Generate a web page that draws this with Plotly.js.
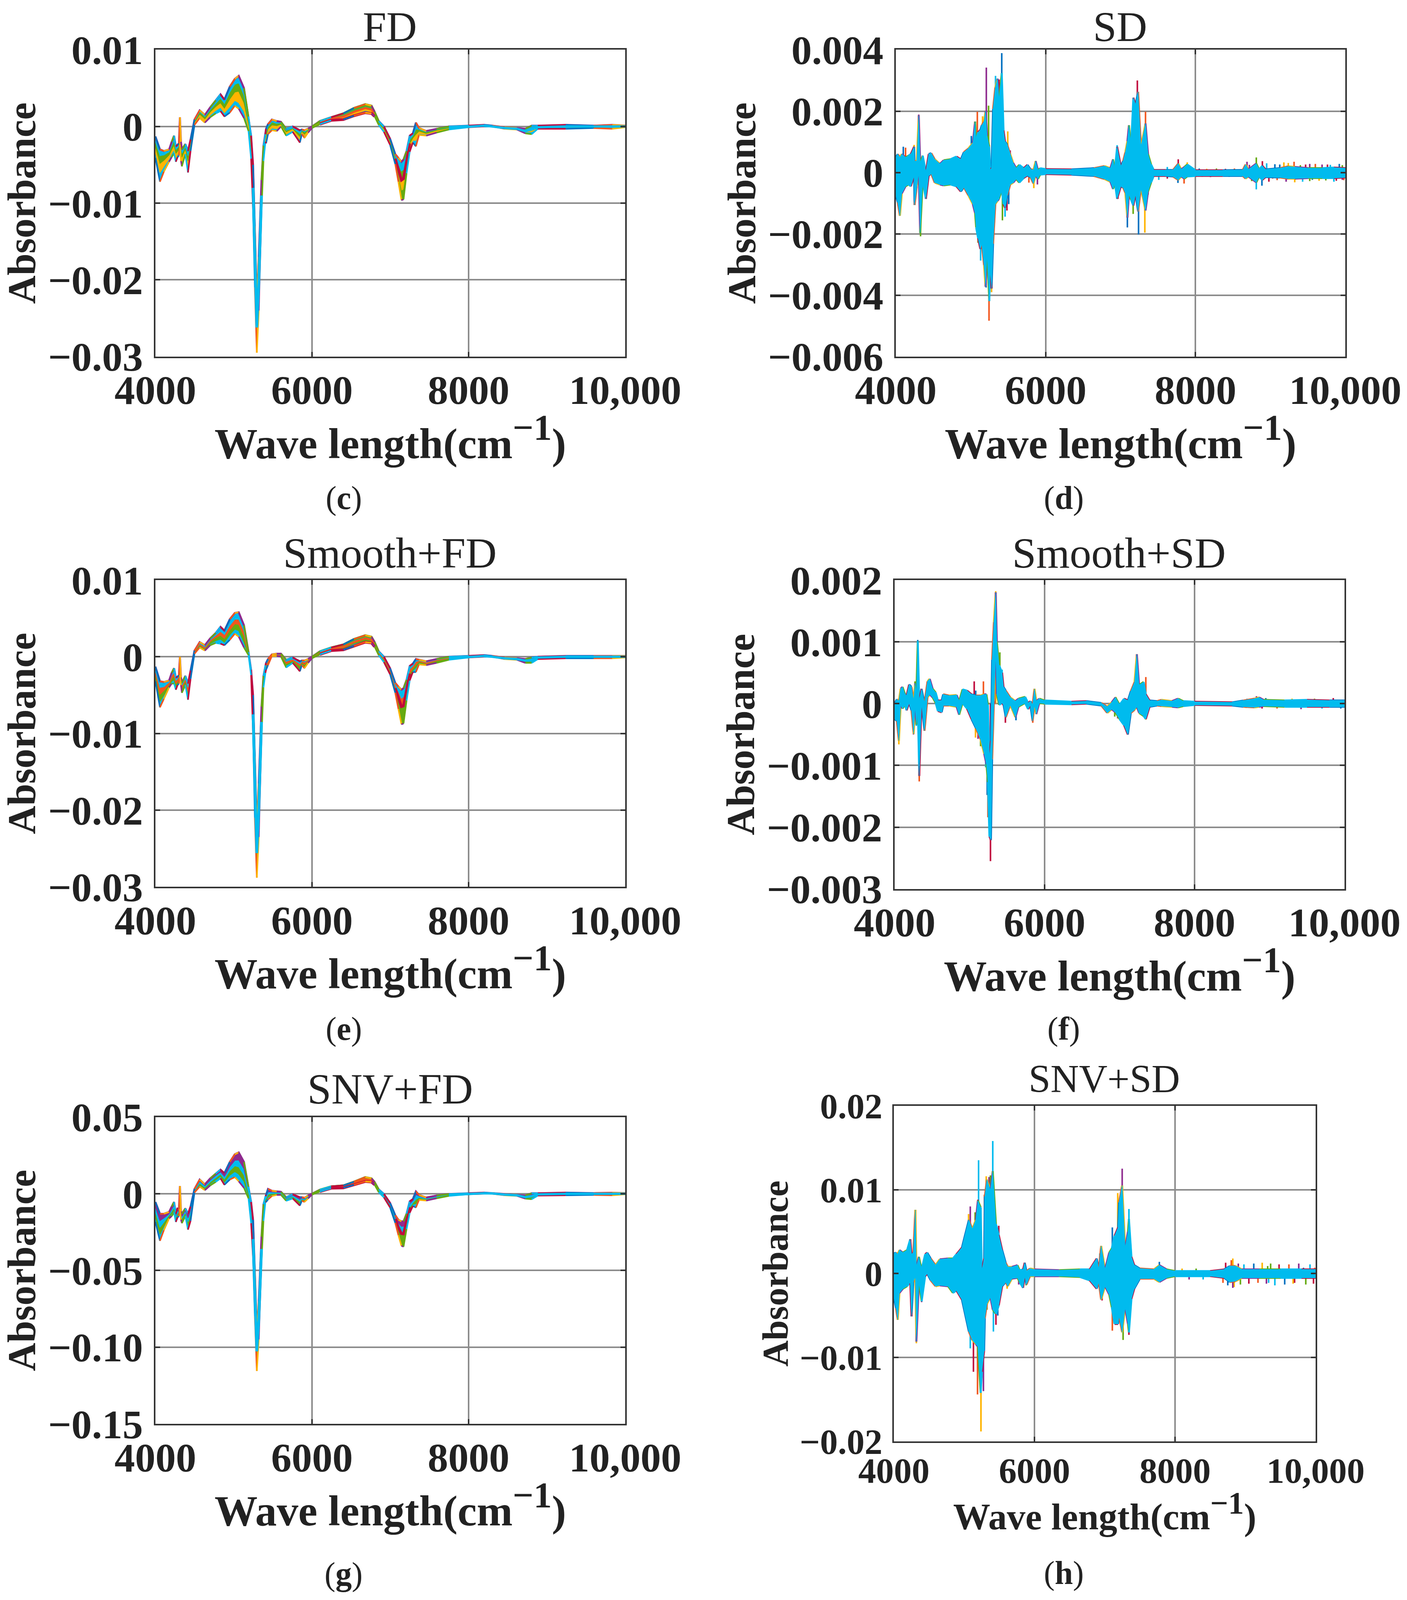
<!DOCTYPE html>
<html><head><meta charset="utf-8">
<script src="https://cdn.plot.ly/plotly-3.0.1.min.js"></script>
<style>html,body{margin:0;padding:0;background:#fff;overflow:hidden}</style></head>
<body><div id="chart"></div>
<script>
// ---------- wave numbers of the first-derivative panels ----------
const xFD=[4000,4058,4108,4175,4208,4238,4261,4283,4300,4313,
4326,4338,4382,4416,4449,4499,4565,4632,4700,4770,
4831,4881,4950,5014,5064,5131,5189,5222,5247,5270,
5295,5320,5355,5380,5405,5413,5438,5488,5550,5604,
5670,5753,5845,5870,5904,5950,6000,6100,6245,6400,
6535,6680,6760,6800,6852,6918,6997,7063,7103,7142,
7169,7208,7248,7288,7327,7367,7459,7591,7749,8000,
8198,8303,8460,8617,8725,8805,8884,9240,9596,9834,
10000];
// ---------- (c) FD, units 1e-4 ----------
const cTop=[-13,-30,-32,-30,-20,-12,-26,-24,-22,12,
-20,-30,-23,-32,-17,9,21,15,25,34,
42,35,52,62,66,50,13,-12,-50,-130,
-230,-170,-70,-25,-10,-3,3,9,7,6,
-3,0,-5,-4,-5,-3,0,7,12,17,
24,29,27,19,7,0,-16,-36,-41,-46,
-43,-32,-12,-9,5,-2,-6,-3,0,1,
2,1,-1,-2,-3,1,1,2,1,2,
1];
const cA=[-19,-38,-37,-33,-25,-18,-30,-28,-26,4,
-26,-35,-26,-38,-20,7,19,13,22,30,
37,30,45,55,57,41,9,-19,-65,-150,
-245,-185,-80,-30,-12,-8,0,6,4,5,
-5,-2,-9,-5,-7,-4,0,6,11,15,
22,26,25,18,6,-2,-18,-39,-49,-58,
-56,-39,-17,-12,-3,-4,-7,-4,-1,0,
2,1,-1,-2,-4,-2,0,1,0,1,
0];
const cB=[-26,-48,-44,-37,-30,-24,-35,-32,-30,-5,
-32,-40,-29,-45,-24,5,16,10,19,26,
31,24,36,45,46,31,4,-27,-80,-170,
-262,-205,-90,-35,-15,-12,-3,2,1,3,
-7,-3,-13,-7,-10,-5,-1,5,10,13,
19,24,22,16,4,-3,-20,-42,-56,-70,
-68,-46,-22,-15,-10,-6,-9,-5,-2,0,
1,0,-2,-3,-6,-4,-1,0,0,0,
0];
const cC=[-33,-60,-52,-42,-35,-30,-41,-36,-34,-15,
-39,-46,-33,-53,-28,4,13,7,15,21,
25,18,26,34,31,20,-1,-35,-95,-190,
-280,-222,-100,-40,-18,-17,-7,-2,-3,1,
-10,-5,-17,-8,-12,-7,-1,4,9,11,
16,21,19,14,3,-5,-22,-46,-64,-84,
-82,-54,-28,-18,-18,-9,-10,-7,-3,0,
1,0,-2,-3,-7,-7,-2,-1,-1,-1,
0];
const cBot=[-41,-72,-59,-46,-40,-35,-46,-40,-38,-24,
-45,-52,-36,-60,-32,2,11,5,12,17,
20,13,18,27,23,11,-6,-42,-110,-210,
-295,-240,-110,-45,-20,-22,-10,-5,-6,0,
-12,-7,-21,-10,-15,-8,-2,3,8,9,
14,18,17,13,2,-7,-24,-49,-72,-96,
-95,-61,-33,-21,-26,-11,-12,-8,-4,-1,
0,0,-3,-4,-9,-10,-3,-3,-2,-3,
-1];
// ---------- (e) Smooth+FD, units 1e-4 ----------
const eTop=[-13,-32,-33,-31,-21,-15,-27,-26,-24,0,
-27,-34,-25,-35,-18,8,19,15,24,31,
39,34,49,57,58,41,6,-17,-50,-130,
-225,-165,-65,-25,-11,-8,-3,3,4,4,
-4,-1,-6,-5,-5,-3,0,7,12,16,
23,28,26,19,7,0,-15,-34,-39,-43,
-41,-30,-12,-9,-3,-4,-6,-3,0,1,
2,1,-1,-2,-3,-1,0,1,1,1,
1];
const eA=[-18,-40,-39,-33,-24,-20,-31,-28,-26,-6,
-29,-37,-28,-40,-21,7,17,13,22,28,
33,29,41,49,49,34,5,-19,-62,-150,
-240,-182,-75,-29,-13,-10,-5,2,3,3,
-6,-3,-9,-6,-7,-4,-1,6,11,14,
21,26,24,17,6,-2,-17,-37,-45,-54,
-52,-36,-16,-12,-6,-5,-7,-4,-1,0,
1,0,-1,-2,-4,-3,-1,0,0,0,
0];
const eB=[-22,-49,-44,-36,-28,-25,-35,-32,-30,-12,
-32,-41,-31,-45,-24,6,15,11,20,25,
28,24,35,43,42,27,4,-21,-75,-170,
-256,-200,-85,-33,-16,-13,-7,2,2,2,
-9,-5,-12,-8,-10,-5,-1,5,10,13,
19,24,22,16,4,-3,-19,-41,-52,-65,
-64,-44,-22,-15,-10,-6,-9,-5,-2,0,
1,0,-2,-3,-5,-5,-1,0,0,0,
0];
const eC=[-27,-58,-50,-38,-32,-30,-39,-35,-33,-18,
-35,-44,-34,-51,-27,5,14,9,17,21,
23,19,29,36,34,19,3,-23,-88,-190,
-272,-218,-95,-37,-18,-15,-9,1,1,1,
-11,-7,-16,-9,-13,-7,-2,4,9,11,
17,21,20,14,3,-5,-21,-44,-60,-76,
-75,-50,-27,-18,-14,-8,-10,-7,-3,0,
0,0,-2,-3,-7,-7,-2,-1,-1,-1,
0];
const eBot=[-32,-66,-55,-40,-35,-35,-43,-37,-35,-24,
-37,-47,-37,-56,-29,4,12,8,15,18,
17,15,22,30,26,12,2,-24,-100,-210,
-288,-235,-105,-40,-21,-17,-11,1,1,0,
-14,-8,-19,-11,-15,-8,-2,3,8,9,
14,19,18,13,2,-7,-23,-47,-68,-88,
-87,-57,-31,-20,-20,-10,-11,-8,-4,-1,
0,0,-3,-4,-8,-8,-3,-2,-2,-2,
-1];
// ---------- (g) SNV+FD, units 1e-4 ----------
const gTop=[-54,-131,-131,-119,-84,-54,-131,-92,-108,50,
-115,-131,-96,-131,-84,31,92,61,100,131,
157,134,207,257,269,207,46,-54,-170,-500,
-900,-700,-280,-69,-15,-8,31,19,15,12,
-23,-4,-23,-23,-27,-12,0,26,48,54,
78,108,100,76,28,-2,-60,-140,-170,-180,
-180,-130,-50,-35,15,-8,-25,-12,-2,3,
7,4,-3,-7,-12,3,3,7,4,6,
4];
const gA=[-85,-175,-158,-130,-99,-72,-144,-107,-118,10,
-128,-147,-108,-157,-107,25,83,53,90,120,
143,114,177,218,220,163,31,-82,-220,-560,
-950,-750,-310,-90,-23,-17,13,12,10,8,
-28,-9,-36,-28,-33,-16,-1,24,46,50,
74,102,95,73,24,-6,-66,-150,-190,-212,
-212,-150,-65,-44,-5,-14,-29,-16,-5,2,
6,3,-4,-8,-16,-5,0,3,1,2,
2];
const gB=[-119,-219,-185,-140,-115,-88,-157,-123,-127,-25,
-142,-162,-121,-182,-130,19,69,42,77,104,
128,96,150,182,175,122,8,-123,-295,-650,
-1027,-825,-360,-123,-35,-31,-3,2,4,2,
-35,-18,-50,-35,-40,-22,-3,20,42,46,
68,94,88,67,19,-13,-75,-165,-220,-260,
-262,-180,-88,-58,-37,-24,-35,-21,-8,0,
3,2,-6,-10,-22,-16,-4,-1,-2,-2,
0];
const gC=[-151,-263,-212,-150,-130,-105,-170,-138,-136,-62,
-155,-177,-133,-208,-153,13,57,32,65,90,
114,76,121,145,128,80,-10,-157,-360,-725,
-1090,-885,-400,-150,-45,-43,-20,-6,-2,-3,
-41,-25,-64,-41,-47,-26,-4,17,39,42,
63,87,82,62,14,-19,-83,-178,-245,-300,
-305,-205,-108,-69,-65,-32,-40,-26,-11,-1,
1,1,-8,-12,-27,-26,-8,-5,-5,-6,
-2];
const gBot=[-184,-307,-238,-161,-146,-123,-184,-154,-146,-100,
-169,-192,-146,-234,-177,8,46,23,54,77,
100,58,92,108,81,38,-31,-192,-420,-800,
-1155,-950,-440,-177,-54,-54,-38,-15,-8,-8,
-46,-31,-77,-46,-54,-31,-6,14,36,38,
58,80,76,58,10,-24,-90,-190,-270,-340,
-345,-230,-125,-80,-90,-40,-45,-30,-14,-3,
0,0,-10,-14,-32,-36,-12,-10,-8,-10,
-4];
// ---------- (d) SD, units 1e-5 ----------
const dX=[4000,4026,4054,4080,4130,4170,4200,4244,4250,4280,4306,4325,4359,4401,4439,4473,4519,4589,4639,4729,4809,4868,4908,4968,5028,5058,5072,5098,5128,5148,5178,5198,5218,5248,5258,5278,5298,5328,5358,5378,5414,5438,5458,5488,5527,5567,5607,5647,5707,5757,5797,5837,5867,5897,5927,6000,6345,6644,6784,6864,6900,6924,6954,7004,7034,7064,7091,7112,7140,7171,7200,7234,7272,7333,7367,7408,7443,7605,7700,7770,7810,7852,7890,8000,8365,8631,8669,8707,8812,8850,8893,8935,9125,9239,9325,9506,9696,9848,10000];
const dUp=[49,60,49,60,49,55,60,84,37,37,186,31,55,2,60,63,43,28,40,43,52,43,66,78,96,166,101,131,139,154,166,201,119,84,8,14,207,277,306,236,324,137,101,90,60,31,14,25,14,25,11,8,37,8,14,11,10,14,21,14,43,8,84,20,37,66,102,154,83,244,221,263,83,160,60,26,8,8,8,29,10,18,26,7,7,8,26,10,29,10,22,10,14,20,18,14,14,16,14];
const dLo=[-74,-97,-141,-68,-45,-39,-45,-10,-106,-45,2,-197,-27,-86,-10,-4,-33,-39,-42,-39,-45,-62,-48,-74,-103,-132,-179,-214,-249,-232,-302,-372,-261,-419,-314,-378,-232,-103,-92,-86,-56,-103,-115,-74,-39,-33,-21,-33,-18,-10,-15,-36,-10,-21,-7,-5,-7,-11,-21,-30,-54,-33,-86,-45,-49,-66,-147,-70,-89,-108,-70,-127,-51,-124,-62,-32,-11,-11,-13,-24,-13,-20,-13,-11,-11,-11,-20,-13,-32,-13,-24,-15,-16,-20,-20,-18,-18,-18,-16];
const dTipX=[4100,4130,4244,4306,4330,4405,4030,5008,5088,5158,5208,5238,5331,5378,5414,5438,5494,5527,5098,5132,5158,5205,5244,5278,5298,5423,5458,5483,5507,5776,5842,5890,5867,6954,6964,7091,7112,7140,7171,7168,7200,7224,7240,7333,7324,7367,7367,7510,7770,7766,7848,7890,8688,8812,8812,8893,8887,9316,9325,9525,9525,9848,9762,9125,9030,9239,9960,9960,7624,7624,
8050,8090,8150,8200,8280,8330,8400,8450,8520,8580,8720,8750,8950,8980,9060,9090,9180,9210,9400,9430,9470,9560,9600,9650,9690,9740,9800,9880,9920,9980];
const dTipY=[84,81,90,189,-208,-86,-109,119,198,183,342,218,315,303,389,151,134,72,-229,-287,-240,-375,-483,-390,-249,-156,-144,-124,-103,-33,-51,-39,38,89,-86,-179,154,91,244,-135,221,300,-202,198,-196,66,-72,-24,43,-34,-36,33,35,49,-55,37,-43,35,-32,28,-28,-30,26,26,-20,31,-24,24,18,-20,
13,-14,12,-15,13,-13,12,-14,13,-13,25,-28,30,-30,27,-25,33,-30,24,-30,26,-24,28,-27,26,-26,25,-27,28,-25];
// ---------- (f) Smooth+SD, units 1e-5 ----------
const fX=[4000,4030,4056,4080,4105,4139,4159,4193,4225,4253,4273,4289,4308,4328,4358,4398,4438,4468,4507,4547,4577,4627,4647,4726,4826,4860,4905,4965,5025,5085,5144,5194,5224,5244,5264,5284,5300,5324,5348,5363,5393,5433,5452,5482,5542,5611,5651,5740,5780,5810,5840,5865,5889,5929,6000,6358,6557,6756,6835,6895,6945,7000,7060,7110,7150,7200,7230,7260,7320,7350,7400,7500,7560,7700,7780,7850,8000,8500,8650,8800,8860,8920,9200,9500,9800,10000];
const fUp=[0,7,4,24,27,15,13,31,27,4,33,15,101,4,24,1,36,40,24,18,5,5,15,13,14,4,23,21,15,13,13,15,15,-2,-90,-60,71,132,180,100,62,50,27,21,10,4,8,11,1,4,-2,24,4,8,5,3,4,1,-5,2,10,-2,8,5,20,35,80,30,35,15,5,4,6,4,8,4,3,2,5,8,10,6,5,6,5,5];
const fLo=[-25,-28,-60,-2,-8,-2,-11,1,-11,-49,-2,-34,1,-117,1,-44,10,15,10,1,-12,-14,-3,-3,-5,-18,1,-8,-25,-40,-57,-81,-98,-127,-215,-221,-90,4,85,15,-2,1,-2,-22,-2,-22,-5,1,-9,-2,-28,-2,-17,1,0,-1,0,-3,-15,-9,-14,-25,-35,-50,-15,-10,-5,-15,-20,-25,-5,-3,-4,-5,-6,-4,-2,-3,-5,-6,-5,-4,-5,-5,-5,-5];
const fTipX=[4308,4328,4056,4251,4271,4289,5061,5081,5184,5078,5112,5146,5214,5278,5234,5244,5348,5334,5403,5433,5477,5618,5842,6949,6975,6935,7085,7110,7230,7350,7350,8825,8686,8700,8900,8950,9100,9300,9420,9600,9700,9850,9950];
const fTipY=[103,-126,-66,-50,36,-36,36,21,36,-55,-57,-69,-103,-255,-148,-184,182,134,83,55,-31,-27,-31,11,-24,-21,-40,-50,79,43,-26,12,-7,8,-8,9,-8,8,-9,8,-8,9,-8];
// ---------- (h) SNV+SD, units 1e-4 ----------
const hX=[4000,4030,4055,4079,4128,4188,4233,4251,4277,4306,4320,4356,4395,4445,4474,4524,4593,4652,4771,4840,4889,4968,5067,5116,5166,5195,5235,5251,5284,5294,5324,5373,5407,5452,5492,5541,5591,5620,5680,5759,5789,5838,5861,5887,5937,6000,6352,6648,6786,6885,6915,6949,7004,7064,7100,7140,7190,7204,7248,7290,7330,7344,7380,7420,7500,7700,7777,7880,8000,8500,8700,8780,8860,8950,9200,9500,9800,10000];
const hUp=[24,25,23,28,25,28,41,23,25,76,8,20,5,23,25,18,10,17,18,18,23,31,64,53,64,87,79,3,18,92,112,99,122,59,46,28,13,8,8,10,4,5,13,3,6,5,4,5,5,18,5,33,5,25,30,45,55,85,105,30,50,65,20,10,6,5,10,5,3,3,5,9,9,5,5,5,5,5];
const hLo=[-28,-41,-55,-23,-18,-15,-10,-51,-10,-3,-81,-10,-33,-3,0,-8,-15,-14,-15,-23,-20,-31,-69,-79,-84,-87,-142,-117,-92,-53,-36,-28,-43,-48,-38,-15,-10,-15,-6,-5,-10,-17,-3,-13,-3,-3,-3,-4,-8,-18,-10,-31,-15,-25,-40,-60,-60,-50,-70,-40,-60,-70,-30,-18,-6,-6,-10,-5,-3,-3,-5,-10,-9,-5,-5,-5,-5,-5];
const hTipX=[4306,4237,5063,5087,5156,5205,5195,5235,5288,5314,5354,5373,5407,5492,4055,4251,4320,4395,5067,5087,5132,5162,5190,5239,5274,5324,5416,5452,5478,5522,5611,5776,5881,6930,6962,7108,7108,7185,7248,7261,7344,7344,7777,8682,8822,8822,9318,9331,9701,9828,9987,
8100,8200,8300,8400,8720,8750,8800,8840,8900,8930,8980,9050,9120,9180,9240,9300,9360,9420,9480,9560,9620,9680,9760,9860,9920,9970];
const hTipY=[76,41,71,80,73,135,88,78,94,116,115,117,158,57,-55,-51,-83,-34,-69,-89,-117,-84,-144,-188,-140,-43,-69,-61,-50,-20,-18,-13,-14,24,-32,55,-68,96,125,-79,77,-73,14,-11,18,-17,9,-11,-11,7,7,
6,-7,6,-7,13,-14,16,-16,12,-13,11,-12,12,-11,13,-12,12,-14,11,-13,11,-12,12,-13,11,-12];
// ---------- tick labels, titles ----------
const xTickVals=[4000,6000,8000,10000];
const xTickText=['4000','6000','8000','10,000'];
const cYVals=[0.01,0,-0.01,-0.02,-0.03], cYText=['0.01','0','\u22120.01','\u22120.02','\u22120.03'];
const dYVals=[0.004,0.002,0,-0.002,-0.004,-0.006], dYText=['0.004','0.002','0','\u22120.002','\u22120.004','\u22120.006'];
const fYVals=[0.002,0.001,0,-0.001,-0.002,-0.003], fYText=['0.002','0.001','0','\u22120.001','\u22120.002','\u22120.003'];
const gYVals=[0.05,0,-0.05,-0.10,-0.15], gYText=['0.05','0','\u22120.05','\u22120.10','\u22120.15'];
const hYVals=[0.02,0.01,0,-0.01,-0.02], hYText=['0.02','0.01','0','\u22120.01','\u22120.02'];

// The window may be shorter than the reference: keep every vertical position as a share of the reference height.
const W=3603, REF_H=4532, H=Math.min(REF_H,window.innerHeight||REF_H);
const FS=0.5+0.5*H/REF_H;
document.getElementById('chart').style.cssText='width:'+W+'px;height:'+H+'px';
const BLUE='#0070C0',ORANGE='#F2561D',YELLOW='#FFB400',PURPLE='#8E2A8E',GREEN='#66AA11',CYAN='#00BBEE',RED='#C00A3C';
const CYCLE=[BLUE,ORANGE,YELLOW,PURPLE,GREEN,CYAN,RED];
const SERIF='"Liberation Serif","Times New Roman",serif';
const XTITLE='Wave length(cm<sup>\u22121</sup>)';

const panels=[
 {title:'FD',tag:'c',box:[398,1601,141,1010],yr:[-0.03,0.01],yv:cYVals,yt:cYText,tf:110,af:116,yf:106,ttf:114,kind:'fd',s:1e-4,
  d:[cTop,cA,cB,cC,cBot],fills:[CYAN,GREEN,YELLOW,CYAN],tx:346,ty:26,lx:305,ly:489,xs:38,ys:20},
 {title:'SD',tag:'d',box:[2294,3445,141,1010],yr:[-0.006,0.004],yv:dYVals,yt:dYText,tf:110,af:116,yf:106,ttf:114,kind:'sd',s:1e-5,
  x:dX,up:dUp,lo:dLo,tx_:dTipX,ty_:dTipY,tx:994,ty:26,lx:944,ly:489,xs:38,ys:0},
 {title:'Smooth+FD',tag:'e',box:[398,1601,1643,2512],yr:[-0.03,0.01],yv:cYVals,yt:cYText,tf:110,af:116,yf:106,ttf:116,kind:'fd',s:1e-4,
  d:[eTop,eA,eB,eC,eBot],fills:[CYAN,ORANGE,GREEN,CYAN],tx:346,ty:543,lx:305,ly:1010,xs:38,ys:20},
 {title:'Smooth+SD',tag:'f',box:[2291,3443,1643,2518],yr:[-0.003,0.002],yv:fYVals,yt:fYText,tf:110,af:116,yf:106,ttf:116,kind:'sd',s:1e-5,
  x:fX,up:fUp,lo:fLo,tx_:fTipX,ty_:fTipY,tx:993,ty:543,lx:944,ly:1010,xs:38,ys:0},
 {title:'SNV+FD',tag:'g',box:[398,1601,3164,4033],yr:[-0.15,0.05],yv:gYVals,yt:gYText,tf:110,af:116,yf:106,ttf:116,kind:'fd',s:1e-4,
  d:[gTop,gA,gB,gC,gBot],fills:[PURPLE,CYAN,GREEN,CYAN],tx:346,ty:1069,lx:305,ly:1545,xs:38,ys:20},
 {title:'SNV+SD',tag:'h',box:[2289,3369,3132,4083],yr:[-0.02,0.02],yv:hYVals,yt:hYText,tf:96,af:100,yf:98,ttf:106,kind:'sd',s:1e-4,
  x:hX,up:hUp,lo:hLo,tx_:hTipX,ty_:hTipY,tx:980,ty:1059,lx:944,ly:1544,xs:34,ys:0}
];
const overview=2.886;

function scale(a,s){return a.map(v=>v*s);}
function checkLen(name,a,b){if(a.length!==b.length)throw new Error(name+' '+a.length+' vs '+b.length);}

const traces=[]; const layout={
 width:W,height:H,margin:{l:0,r:0,t:0,b:0},paper_bgcolor:'#fff',plot_bgcolor:'#fff',showlegend:false,annotations:[],
 font:{family:SERIF,color:'#222'}
};

function line(xa,ya,x,y,color,width,extra){
 traces.push(Object.assign({type:'scatter',mode:'lines',x:x,y:y,xaxis:xa,yaxis:ya,
   line:{color:color,width:width,shape:'linear'},hoverinfo:'skip',connectgaps:false},extra||{}));
}
function fringe(xa,ya,x,y,width,run){
 CYCLE.forEach((c,ci)=>{
  const fx=[],fy=[];
  for(let k=0;k<x.length-1;k++){
   if(Math.floor(k/run)%CYCLE.length===ci){fx.push(x[k],x[k+1],null);fy.push(y[k],y[k+1],null);}
  }
  line(xa,ya,fx,fy,c,width);
 });
}

panels.forEach((p,i)=>{
 const n=i===0?'':String(i+1), xa='x'+n, ya='y'+n;
 const [l,r,t,b]=p.box;
 const axisCommon={showline:true,linecolor:'#333',linewidth:4,mirror:'ticks',ticks:'inside',ticklen:12,tickwidth:4,tickcolor:'#333',
   showgrid:true,gridcolor:'#8c8c8c',gridwidth:4,zeroline:false};
 layout['xaxis'+n]=Object.assign({},axisCommon,{domain:[l/W,r/W],range:[4000,10000],anchor:ya,tickmode:'array',tickvals:xTickVals,ticktext:xTickText,
   tickfont:{family:SERIF,size:p.tf*FS,weight:700,color:'#222'},tickangle:0,ticklabelstandoff:-8,
   title:{text:XTITLE,standoff:p.xs,font:{family:SERIF,size:p.af*FS,weight:700,color:'#222'}}});
 layout['yaxis'+n]=Object.assign({},axisCommon,{domain:[1-b/REF_H,1-t/REF_H],range:p.yr,anchor:xa,tickmode:'array',tickvals:p.yv,ticktext:p.yt,
   tickfont:{family:SERIF,size:p.tf*FS,weight:700,color:'#222'},ticklabelstandoff:7,
   title:{text:'Absorbance',standoff:p.ys,font:{family:SERIF,size:p.yf*FS,weight:700,color:'#222'}}});
 layout.annotations.push({xref:'paper',yref:'paper',x:p.tx*overview/W,y:1-p.ty*overview/REF_H,text:p.title,showarrow:false,
   xanchor:'center',yanchor:'middle',font:{family:SERIF,size:p.ttf*FS,color:'#222'}});
 layout.annotations.push({xref:'paper',yref:'paper',x:p.lx*overview/W,y:1-p.ly*overview/REF_H,text:'(<b>'+p.tag+'</b>)',showarrow:false,
   xanchor:'center',yanchor:'middle',font:{family:SERIF,size:88*FS,color:'#222'}});

 if(p.kind==='fd'){
  p.d.forEach((a,k)=>checkLen(p.tag+k,a,xFD));
  const ys=p.d.map(a=>scale(a,p.s));
  line(xa,ya,xFD,ys[0],PURPLE,5);
  p.fills.forEach((c,k)=>line(xa,ya,xFD,ys[k+1],c,2,{fill:'tonexty',fillcolor:c}));
  const arm=[47,54], dip=[57,63], vee=[28,33], tail=[68,81];
  line(xa,ya,xFD.slice(...arm),ys[0].slice(...arm),GREEN,5);
  line(xa,ya,xFD.slice(...arm),ys[1].slice(...arm),GREEN,1,{fill:'tonexty',fillcolor:GREEN});
  line(xa,ya,xFD.slice(...arm),ys[2].slice(...arm),ORANGE,5);
  line(xa,ya,xFD.slice(...arm),ys[4].slice(...arm),RED,7);
  line(xa,ya,xFD.slice(...dip),ys[2].slice(...dip),RED,7);
  line(xa,ya,xFD.slice(...dip),ys[3].slice(...dip),GREEN,1);
  line(xa,ya,xFD.slice(...dip),ys[4].slice(...dip),GREEN,1,{fill:'tonexty',fillcolor:GREEN});
  fringe(xa,ya,xFD,ys[0],4,1);
  fringe(xa,ya,xFD,ys[4],4,1);
  line(xa,ya,xFD.slice(...vee),ys[2].slice(...vee),CYAN,7);
  line(xa,ya,xFD.slice(...tail),ys[2].slice(...tail),CYAN,6);
 } else {
  checkLen(p.tag+'up',p.up,p.x);checkLen(p.tag+'lo',p.lo,p.x);checkLen(p.tag+'tip',p.tx_,p.ty_);
  const up=scale(p.up,p.s),lo=scale(p.lo,p.s),tips=scale(p.ty_,p.s);
  CYCLE.forEach((c,ci)=>{
   const bx=[],by=[];
   p.tx_.forEach((v,k)=>{if(k%CYCLE.length===ci){bx.push(v,v,null);by.push(0,tips[k],null);}});
   line(xa,ya,bx,by,c,4);
  });
  fringe(xa,ya,p.x,up,5,1);
  fringe(xa,ya,p.x,lo,5,1);
  line(xa,ya,p.x,lo,CYAN,1.5);
  line(xa,ya,p.x,up,CYAN,1.5,{fill:'tonexty',fillcolor:CYAN});
 }
});

Plotly.newPlot('chart',traces,layout,{displayModeBar:false,staticPlot:true}).then(()=>{
 // give inner tspans explicit pixel sizes; superscript as large as in the reference
 document.querySelectorAll('#chart svg tspan').forEach(t=>{
  const parentSize=parseFloat(getComputedStyle(t.parentNode).fontSize);
  if(t.getAttribute('dy')==='-0.6em'){
   t.style.fontSize=(0.85*parentSize)+'px';
   t.setAttribute('dy',(-0.42*parentSize)+'px');
  } else {
   t.style.fontSize=parentSize+'px';
  }
 });
});
</script></body></html>
